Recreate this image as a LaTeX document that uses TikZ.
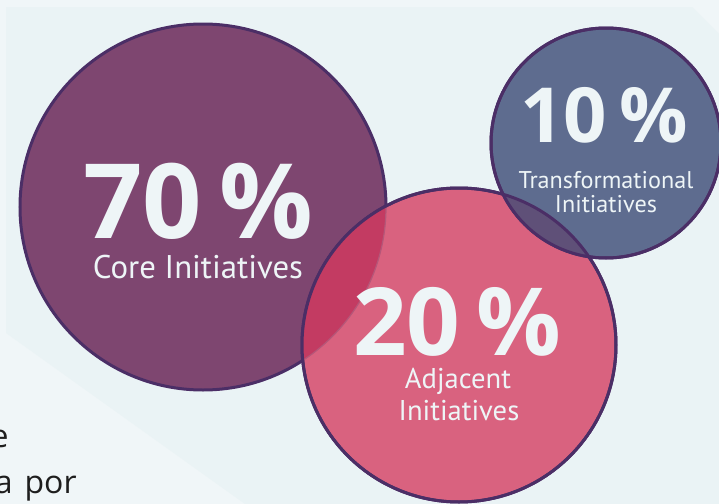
\documentclass[tikz,border=0pt]{standalone}
\usepackage{fontspec}
\setmainfont{PT Sans}
\newfontfamily\numfont{Open Sans}
\usetikzlibrary{positioning}

\definecolor{bgpale}{HTML}{F0F6F8}
\definecolor{bgpanel}{HTML}{EAF3F5}
\definecolor{corefill}{HTML}{7E4670}
\definecolor{adjfill}{HTML}{D9627F}
\definecolor{transfill}{HTML}{5E6C8F}
\definecolor{rimcol}{HTML}{4B2E66}
\definecolor{mixred}{HTML}{C33B62}
\definecolor{mixgrey}{HTML}{5F5078}
\definecolor{txtlight}{HTML}{EEF5F7}
\definecolor{inkdark}{HTML}{1E1E1E}

\tikzset{
  bubble/.style={circle, draw=rimcol, line width=1.5pt, inner sep=0pt, outer sep=0pt},
  pct/.style={font=\numfont\bfseries\fontsize{#1}{#1}\selectfont, text=txtlight, anchor=base, inner sep=0pt, text depth=0pt},
  blurb/.style={font=\fontsize{#1}{#1}\selectfont, text=txtlight, anchor=base, inner sep=0pt},
  snip/.style={font=\numfont\fontsize{16}{16}\selectfont, text=inkdark, inner sep=0pt}
}

\begin{document}
\begin{tikzpicture}[x=0.5pt, y=-0.5pt]
    \useasboundingbox (0,0) rectangle (719,504);
    \clip (0,0) rectangle (719,504);
    \fill[bgpale] (0,0) rectangle (719,504);
    \fill[bgpanel] (6,7) -- (692,7) -- (719,34) -- (719,504) -- (245,504) -- (6,333) -- cycle;

    % the three bubbles
    \node (core) [bubble, fill=corefill, minimum size=183pt] at (203,207) {};
    \node (adj) [bubble, fill=adjfill, minimum size=157pt] at (459,345) {};
    \begin{scope}
        \clip (core.center) circle (183);
        \fill[mixred] (adj.center) circle (157);
    \end{scope}
    \begin{scope}
        \clip (adj.center) circle (157);
        \draw[corefill!40!adjfill, line width=0.6pt] (core.center) circle (183);
    \end{scope}
    \draw[rimcol, line width=1.5pt] (adj.center) circle (157);
    \node (trans) [bubble, fill=transfill, minimum size=115pt] at (606,143) {};
    \begin{scope}
        \clip (trans.center) circle (115);
        \fill[mixgrey] (adj.center) circle (157);
        \draw[rimcol, line width=1.5pt] (adj.center) circle (157);
    \end{scope}
    \draw[rimcol, line width=1.5pt] (trans.center) circle (115);

    % labels
    \node (core-pct) [pct=52] at (198,238) {70\,\%};
    \node (core-txt) [blurb=16.4] at (198,278) {Core Initiatives};
    \node (trans-pct) [pct=38] at (604,142) {10\,\%};
    \node (trans-txt) [blurb=12.1] at (606,188) {Transformational};
    \node (trans-txt2) [blurb=12.1] at (606,212) {Initiatives};
    \node (adj-pct) [pct=47] at (457,355) {20\,\%};
    \node (adj-txt) [blurb=14.3] at (458,388) {Adjacent};
    \node (adj-txt2) [blurb=14.3] at (459,420) {Initiatives};

    % cut-off text at the left
    \node (cut-e) [snip, anchor=base east] at (9,447) {e};
    \node (cut-por) [snip, anchor=base east] at (77,493) {a\hspace{6pt}por};
\end{tikzpicture}
\end{document}
